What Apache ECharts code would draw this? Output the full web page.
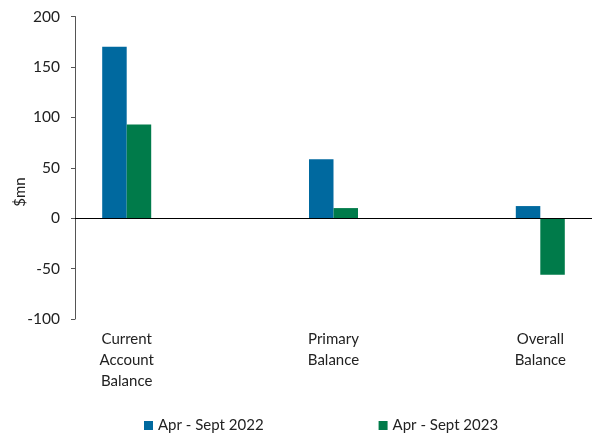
<!DOCTYPE html>
<html>
<head>
<meta charset="utf-8">
<script src="https://cdn.jsdelivr.net/npm/echarts@6/dist/echarts.min.js"></script>
<style>
  html, body { margin: 0; padding: 0; background: #fff; }
  #chart { width: 595px; height: 438px; }
</style>
</head>
<body>
<div id="chart"></div>
<script>
// Categories: blank slots keep the wide spacing between the three groups
const categories = ['Current\nAccount\nBalance', '', 'Primary\nBalance', '', 'Overall\nBalance'];
const series2022 = [170, null, 58.5, null, 12];
const series2023 = [93, null, 10, null, -56];
const seriesNames = ['Apr - Sept 2022', 'Apr - Sept 2023'];
const yTicks = { min: -100, max: 200, interval: 50 };

const FONT = 'Lato, "Liberation Sans", sans-serif';
const BLUE = '#00699f';
const GREEN = '#007b4a';

const chart = echarts.init(document.getElementById('chart'), null, { renderer: 'canvas' });
chart.setOption({
  animation: false,
  textStyle: { fontFamily: FONT },
  grid: { left: 75, right: 3, top: 16.5, bottom: 119, containLabel: false },
  legend: {
    bottom: 0,
    left: 139,
    itemWidth: 9,
    itemHeight: 9,
    itemGap: 115,
    icon: 'rect',
    textStyle: { fontFamily: FONT, fontSize: 15, color: '#222' },
    data: seriesNames
  },
  xAxis: {
    type: 'category',
    data: categories,
    axisLine: { show: false, onZero: false },
    axisTick: { show: false },
    axisLabel: {
      interval: 0,
      margin: 10,
      fontSize: 15,
      lineHeight: 21,
      color: '#222',
      fontFamily: FONT
    }
  },
  yAxis: {
    type: 'value',
    min: yTicks.min,
    max: yTicks.max,
    interval: yTicks.interval,
    splitLine: { show: false },
    axisLine: { show: true, lineStyle: { color: '#555', width: 1 } },
    axisTick: { show: true, length: 4, lineStyle: { color: '#555' } },
    axisLabel: { fontSize: 15.5, color: '#222', margin: 15, fontFamily: FONT }
  },
  graphic: [{
    type: 'text',
    x: 20,
    y: 192,
    rotation: Math.PI / 2,
    style: {
      text: '$mn',
      fontSize: 15,
      fontFamily: FONT,
      fill: '#222',
      align: 'center',
      verticalAlign: 'middle'
    }
  }],
  series: [
    {
      name: seriesNames[0],
      type: 'bar',
      data: series2022,
      barWidth: 24.5,
      barGap: '0%',
      itemStyle: { color: BLUE },
      markLine: {
        silent: true,
        symbol: 'none',
        label: { show: false },
        lineStyle: { color: '#000', width: 1.2, type: 'solid' },
        data: [{ yAxis: 0 }]
      }
    },
    {
      name: seriesNames[1],
      type: 'bar',
      data: series2023,
      barWidth: 24.5,
      barGap: '0%',
      itemStyle: { color: GREEN }
    }
  ]
});
</script>
</body>
</html>
